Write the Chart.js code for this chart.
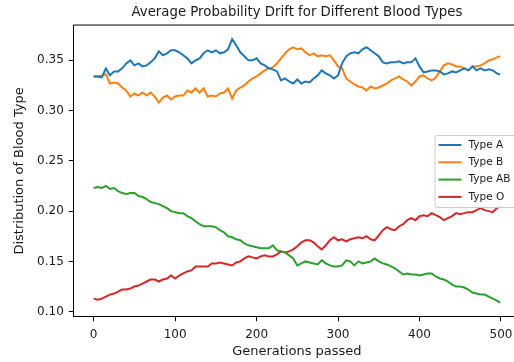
<!DOCTYPE html>
<html>
<head>
<meta charset="utf-8">
<script src="https://cdn.jsdelivr.net/npm/chart.js@4.4.1/dist/chart.umd.min.js"></script>
<style>
  html, body { margin: 0; padding: 0; background: #fff; overflow: hidden; }
  #wrap { width: 530px; height: 362px; }
</style>
</head>
<body>
<div id="wrap"><canvas id="myChart" width="530" height="362"></canvas></div>
<script>
// generation index of each sampled point
const generations = [
  0, 5, 10, 15, 20, 25, 30, 35, 40, 45, 50, 55, 60, 65, 70, 75, 80, 85, 90, 95,
  100, 105, 110, 115, 120, 125, 130, 135, 140, 145, 150, 155, 160, 165, 170, 175, 180, 185, 190, 195,
  200, 205, 210, 215, 220, 225, 230, 235, 240, 245, 250, 255, 260, 265, 270, 275, 280, 285, 290, 295,
  300, 305, 310, 315, 320, 325, 330, 335, 340, 345, 350, 355, 360, 365, 370, 375, 380, 385, 390, 395,
  400, 405, 410, 415, 420, 425, 430, 435, 440, 445, 450, 455, 460, 465, 470, 475, 480, 485, 490, 495, 499
];

const typeA = [
  0.334, 0.334, 0.333, 0.342, 0.335, 0.339, 0.339, 0.342, 0.347, 0.350, 0.345, 0.347, 0.344, 0.345, 0.348, 0.352, 0.359, 0.355, 0.357, 0.360,
  0.360, 0.358, 0.355, 0.352, 0.347, 0.350, 0.352, 0.357, 0.360, 0.358, 0.360, 0.357, 0.358, 0.361, 0.371, 0.365, 0.358, 0.354, 0.350, 0.350,
  0.352, 0.347, 0.345, 0.342, 0.341, 0.339, 0.330, 0.332, 0.329, 0.327, 0.331, 0.327, 0.329, 0.328, 0.332, 0.335, 0.340, 0.337, 0.335, 0.332,
  0.335, 0.347, 0.354, 0.357, 0.358, 0.357, 0.361, 0.363, 0.360, 0.357, 0.354, 0.348, 0.347, 0.348, 0.348, 0.349, 0.347, 0.348, 0.348, 0.352,
  0.344, 0.338, 0.339, 0.340, 0.340, 0.339, 0.336, 0.337, 0.339, 0.338, 0.340, 0.342, 0.340, 0.344, 0.340, 0.342, 0.340, 0.341, 0.340, 0.337, 0.336
];

const typeB = [
  0.334, 0.334, 0.335, 0.336, 0.327, 0.328, 0.327, 0.323, 0.320, 0.314, 0.317, 0.315, 0.318, 0.315, 0.318, 0.314, 0.308, 0.313, 0.315, 0.311,
  0.314, 0.315, 0.315, 0.320, 0.318, 0.322, 0.318, 0.322, 0.314, 0.315, 0.314, 0.317, 0.318, 0.322, 0.312, 0.320, 0.323, 0.325, 0.329, 0.332,
  0.334, 0.337, 0.340, 0.342, 0.343, 0.347, 0.352, 0.357, 0.361, 0.363, 0.361, 0.362, 0.358, 0.355, 0.357, 0.354, 0.355, 0.354, 0.355, 0.350,
  0.344, 0.342, 0.332, 0.329, 0.326, 0.324, 0.323, 0.320, 0.324, 0.322, 0.323, 0.325, 0.327, 0.330, 0.332, 0.334, 0.331, 0.329, 0.325, 0.329,
  0.334, 0.335, 0.332, 0.330, 0.333, 0.339, 0.345, 0.347, 0.346, 0.344, 0.344, 0.342, 0.340, 0.344, 0.344, 0.345, 0.347, 0.350, 0.351, 0.353, 0.354
];

const typeAB = [
  0.223, 0.224, 0.223, 0.225, 0.222, 0.223, 0.220, 0.218, 0.217, 0.218, 0.218, 0.215, 0.214, 0.212, 0.209, 0.208, 0.207, 0.205, 0.203, 0.200,
  0.199, 0.198, 0.198, 0.195, 0.193, 0.190, 0.187, 0.185, 0.185, 0.185, 0.184, 0.181, 0.179, 0.175, 0.174, 0.172, 0.171, 0.168, 0.166, 0.165,
  0.164, 0.163, 0.163, 0.163, 0.166, 0.161, 0.160, 0.159, 0.156, 0.153, 0.146, 0.148, 0.150, 0.149, 0.148, 0.147, 0.151, 0.148, 0.146, 0.145,
  0.145, 0.146, 0.151, 0.150, 0.146, 0.150, 0.148, 0.149, 0.150, 0.153, 0.150, 0.148, 0.147, 0.145, 0.143, 0.140, 0.137, 0.138, 0.137, 0.137,
  0.136, 0.137, 0.138, 0.138, 0.135, 0.133, 0.132, 0.130, 0.127, 0.125, 0.125, 0.124, 0.122, 0.119, 0.118, 0.117, 0.117, 0.115, 0.113, 0.111, 0.109
];

const typeO = [
  0.113, 0.112, 0.113, 0.115, 0.117, 0.118, 0.120, 0.122, 0.122, 0.123, 0.125, 0.126, 0.128, 0.130, 0.132, 0.132, 0.130, 0.132, 0.133, 0.136,
  0.133, 0.136, 0.138, 0.140, 0.141, 0.145, 0.145, 0.145, 0.145, 0.148, 0.148, 0.149, 0.148, 0.147, 0.146, 0.149, 0.150, 0.153, 0.155, 0.154,
  0.153, 0.155, 0.156, 0.155, 0.155, 0.157, 0.160, 0.159, 0.160, 0.162, 0.165, 0.169, 0.171, 0.171, 0.169, 0.165, 0.162, 0.166, 0.171, 0.174,
  0.171, 0.172, 0.170, 0.172, 0.173, 0.174, 0.173, 0.175, 0.172, 0.171, 0.176, 0.181, 0.184, 0.182, 0.181, 0.185, 0.187, 0.191, 0.193, 0.191,
  0.195, 0.196, 0.195, 0.198, 0.196, 0.194, 0.191, 0.193, 0.195, 0.198, 0.197, 0.198, 0.199, 0.199, 0.201, 0.203, 0.201, 0.200, 0.199, 0.203, 0.205
];

const seriesLabels = ['Type A', 'Type B', 'Type AB', 'Type O'];
const seriesColors = ['#1f77b4', '#ff7f0e', '#2ca02c', '#d62728'];
const xTickValues = [0, 100, 200, 300, 400, 500];
const yTickValues = [0.10, 0.15, 0.20, 0.25, 0.30, 0.35];

const FONT = 'DejaVu Sans';
const TEXT_COLOR = '#1a1a1a';

function toPoints(values) {
    return values.map((v, i) => ({ x: generations[i], y: v }));
}

// top/right spines, matplotlib style
const framePlugin = {
    id: 'frame',
    afterDatasetsDraw(chart) {
        const { ctx, chartArea } = chart;
        ctx.save();
        ctx.strokeStyle = '#000';
        ctx.lineWidth = 1;
        ctx.beginPath();
        ctx.moveTo(chartArea.left, chartArea.top);
        ctx.lineTo(chartArea.right, chartArea.top);
        ctx.lineTo(chartArea.right, chartArea.bottom);
        ctx.stroke();
        ctx.restore();
    }
};

// legend box drawn inside the axes (center right)
const insideLegend = {
    id: 'insideLegend',
    afterDraw(chart) {
        const { ctx, chartArea } = chart;
        const boxRight = chartArea.right - 5;
        const boxLeft = boxRight - 81;
        const boxTop = 135;
        const rowGap = 17.3;
        const boxHeight = 72;
        ctx.save();
        ctx.fillStyle = 'rgba(255,255,255,0.8)';
        ctx.strokeStyle = '#cccccc';
        ctx.lineWidth = 1;
        ctx.beginPath();
        ctx.roundRect(boxLeft + 0.5, boxTop + 0.5, boxRight - boxLeft, boxHeight, 2);
        ctx.fill();
        ctx.stroke();
        ctx.font = '10.5px "' + FONT + '"';
        ctx.textBaseline = 'middle';
        ctx.textAlign = 'left';
        chart.data.datasets.forEach((ds, i) => {
            const y = boxTop + 10 + i * rowGap;
            ctx.strokeStyle = ds.borderColor;
            ctx.lineWidth = 2;
            ctx.beginPath();
            ctx.moveTo(boxLeft + 4, y);
            ctx.lineTo(boxLeft + 27, y);
            ctx.stroke();
            ctx.fillStyle = TEXT_COLOR;
            ctx.fillText(ds.label, boxLeft + 34, y);
        });
        ctx.restore();
    }
};

const ctx = document.getElementById('myChart').getContext('2d');

new Chart(ctx, {
    type: 'line',
    data: {
        datasets: [typeA, typeB, typeAB, typeO].map((values, i) => ({
            label: seriesLabels[i],
            data: toPoints(values),
            borderColor: seriesColors[i],
            backgroundColor: seriesColors[i],
            borderWidth: 2,
            pointRadius: 0,
            tension: 0,
            fill: false
        }))
    },
    options: {
        responsive: false,
        animation: false,
        devicePixelRatio: 1,
        layout: {
            padding: { left: 0, top: 0, right: 9.5, bottom: 0 }
        },
        plugins: {
            legend: { display: false },
            tooltip: { enabled: false },
            title: {
                display: true,
                fullSize: false,
                text: 'Average Probability Drift for Different Blood Types',
                color: TEXT_COLOR,
                font: { family: FONT, size: 13.3, weight: 'normal' },
                padding: { top: 5, bottom: 4.1 }
            }
        },
        scales: {
            x: {
                type: 'linear',
                min: -25,
                max: 524,
                afterBuildTicks: scale => { scale.ticks = xTickValues.map(v => ({ value: v })); },
                afterFit: scale => { scale.height = 45.3; },
                grid: {
                    display: true,
                    drawOnChartArea: false,
                    drawTicks: true,
                    tickLength: 4.5,
                    tickColor: '#000',
                    tickWidth: 1
                },
                border: { display: true, color: '#000', width: 1 },
                ticks: {
                    color: TEXT_COLOR,
                    font: { family: FONT, size: 12 },
                    padding: 6,
                    maxRotation: 0,
                    callback: v => String(v)
                },
                title: {
                    display: true,
                    text: 'Generations passed',
                    color: TEXT_COLOR,
                    font: { family: FONT, size: 13 },
                    padding: { top: 0, bottom: 3 }
                }
            },
            y: {
                type: 'linear',
                min: 0.095,
                max: 0.3851,
                afterBuildTicks: scale => { scale.ticks = yTickValues.map(v => ({ value: v })); },
                afterFit: scale => { scale.width = 73.3; },
                grid: {
                    display: true,
                    drawOnChartArea: false,
                    drawTicks: true,
                    tickLength: 4.5,
                    tickColor: '#000',
                    tickWidth: 1
                },
                border: { display: true, color: '#000', width: 1 },
                ticks: {
                    color: TEXT_COLOR,
                    font: { family: FONT, size: 12 },
                    padding: 5,
                    callback: v => v.toFixed(2)
                },
                title: {
                    display: true,
                    text: 'Distribution of Blood Type',
                    color: TEXT_COLOR,
                    font: { family: FONT, size: 13 },
                    padding: { top: 12, bottom: 0 }
                }
            }
        }
    },
    plugins: [framePlugin, insideLegend]
});
</script>
</body>
</html>
